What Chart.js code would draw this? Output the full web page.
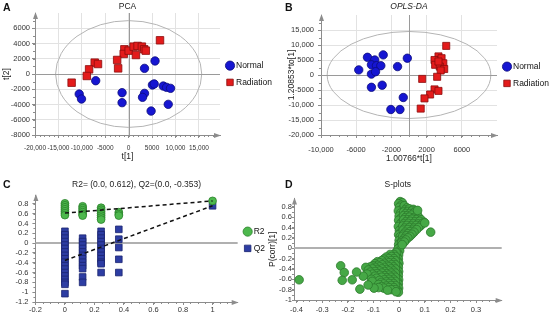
<!DOCTYPE html>
<html><head><meta charset="utf-8">
<script src="https://cdn.jsdelivr.net/npm/chart.js@4/dist/chart.umd.min.js"></script>
<style>
html,body{margin:0;padding:0;background:#fff;}
#wrap{position:relative;width:550px;height:320px;overflow:hidden;font-family:"Liberation Sans",Arial,sans-serif;background:#fff;}
canvas{position:absolute;}
.lt{position:absolute;font-weight:bold;font-size:10.5px;line-height:10.5px;color:#111;}
</style></head><body>
<div id="wrap">
<canvas id="cA" width="275" height="162" style="left:0;top:0"></canvas>
<canvas id="cB" width="275" height="165" style="left:275px;top:0"></canvas>
<canvas id="cC" width="275" height="160" style="left:0;top:160px"></canvas>
<canvas id="cD" width="288" height="160" style="left:262px;top:160px"></canvas>
<div class="lt" style="left:3px;top:2px">A</div>
<div class="lt" style="left:285px;top:1.5px">B</div>
<div class="lt" style="left:3px;top:179px">C</div>
<div class="lt" style="left:285px;top:179px">D</div>
</div>
<script>
// ---------------- DATA ----------------
// Panel A: PCA scores t[1], t[2]
const pcaNormal = [[5630,1710],[3380,740],[-7040,-880],[-10560,-2630],[-10070,-3280],[-1410,-2450],[-1410,-3760],[3380,-2540],[2960,-3060],[5070,-1440],[5450,-1300],[7390,-1580],[8100,-1750],[8940,-1880],[4790,-4860],[8450,-3980]];
const pcaRadiation = [[-920,3240],[-1060,2630],[0,3060],[1060,3590],[1900,3680],[2820,3590],[3310,3240],[3660,3060],[1550,2490],[-2460,1840],[-2250,740],[6690,4420],[-7250,1490],[-6550,1310],[-8450,610],[-8940,-260],[-12180,-1140]];
const pcaEllipse = [0, 0, 15600, 7000];
const pcaXTicks = [-20000,-15000,-10000,-5000,0,5000,10000,15000];
const pcaXLabels = ['-20,000','-15,000','-10,000','-5000','0','5000','10,000','15,000'];
const pcaYTicks = [6000,4000,2000,0,-2000,-4000,-6000,-8000];
const pcaYLabels = ['6000','4000','2000','0','-2000','-4000','-6000','-8000'];

// Panel B: OPLS-DA scores
const oplsNormal = [[-4720,5900],[-3890,5000],[-2930,6700],[-5710,1700],[-4270,3400],[-3700,3100],[-3200,3100],[-4270,300],[-3800,1100],[-4270,-4100],[-3050,-3400],[-1300,2800],[-190,5600],[-650,-7500],[-2060,-11500],[-1030,-11500]];
const oplsRadiation = [[4230,9700],[3350,6200],[2900,5000],[3700,5600],[3900,3900],[2970,3400],[3500,2800],[4000,2000],[3600,1500],[3200,-600],[1500,-1300],[2900,-4800],[3350,-5300],[2400,-6500],[1760,-7800],[1330,-11200],[3350,4500]];
const oplsEllipse = [0, 0, 9300, 14500];
const oplsXTicks = [-10000,-6000,-2000,2000,6000];
const oplsXLabels = ['-10,000','-6000','-2000','2000','6000'];
const oplsYTicks = [15000,10000,5000,0,-5000,-10000,-15000,-20000];
const oplsYLabels = ['15,000','10,000','5000','0','-5000','-10,000','-15,000','-20,000'];

// Panel C: permutation test
const permR2 = [[0,0.81],[0,0.77],[0,0.73],[0,0.69],[0,0.65],[0,0.61],[0,0.57],
  [0.12,0.75],[0.12,0.71],[0.12,0.67],[0.12,0.63],[0.12,0.59],[0.12,0.56],
  [0.245,0.72],[0.245,0.68],[0.245,0.64],[0.245,0.60],[0.245,0.56],[0.245,0.52],[0.245,0.48],
  [0.365,0.63],[0.365,0.59],[0.365,0.56],[1,0.86]];
const permQ2 = [[0,0.24],[0,0.17],[0,0.10],[0,0.03],[0,-0.04],[0,-0.11],[0,-0.18],[0,-0.25],[0,-0.32],[0,-0.39],[0,-0.46],[0,-0.53],[0,-0.60],[0,-0.67],[0,-0.74],[0,-0.80],[0,-0.84],[0,-1.03],
  [0.12,0.10],[0.12,0.03],[0.12,-0.04],[0.12,-0.11],[0.12,-0.18],[0.12,-0.25],[0.12,-0.32],[0.12,-0.39],[0.12,-0.46],[0.12,-0.52],[0.12,-0.69],[0.12,-0.80],
  [0.245,0.24],[0.245,0.17],[0.245,0.10],[0.245,0.03],[0.245,-0.04],[0.245,-0.11],[0.245,-0.18],[0.245,-0.25],[0.245,-0.32],[0.245,-0.39],[0.245,-0.42],[0.245,-0.60],
  [0.365,0.28],[0.365,0.08],[0.365,-0.09],[0.365,-0.33],[0.365,-0.60],[1,0.76]];
const fitR2 = [[0,0.612],[1,0.86]];
const fitQ2 = [[0,-0.353],[1,0.76]];
const permXTicks = [-0.2,0,0.2,0.4,0.6,0.8,1];
const permXLabels = ['-0.2','0','0.2','0.4','0.6','0.8','1'];
const permYTicks = [0.8,0.6,0.4,0.2,0,-0.2,-0.4,-0.6,-0.8,-1,-1.2];
const permYLabels = ['0.8','0.6','0.4','0.2','0','-0.2','-0.4','-0.6','-0.8','-1','-1.2'];

// Panel D: S-plot  (p[1], p(corr)[1])
const sColumn = [[0.004,0.90],[0.012,0.88],[-0.002,0.86],[0.008,0.83],[0.016,0.80],[0.001,0.79],[0.010,0.75],[-0.003,0.72],[0.006,0.68],[0.012,0.64],[0.000,0.62],[0.007,0.58],[-0.002,0.54],[0.010,0.50],[0.003,0.46],[-0.003,0.42],[0.008,0.38],[0.001,0.34],[0.006,0.30],[-0.002,0.26],[0.004,0.22],[0.009,0.18],[0.000,0.15],[0.006,0.11],[-0.002,0.07],[0.004,0.03],[-0.004,-0.01],[0.002,-0.05],[-0.006,-0.09],[-0.002,-0.13],[-0.008,-0.17],[-0.003,-0.21],[-0.006,-0.25],[-0.001,-0.29],[-0.007,-0.33],[-0.003,-0.37],[-0.008,-0.41],[-0.002,-0.45],[-0.006,-0.49],[-0.003,-0.53],[-0.008,-0.57],[-0.002,-0.61],[-0.006,-0.65],[-0.003,-0.69],[-0.007,-0.73],[-0.002,-0.77],[-0.006,-0.81],[-0.003,-0.85]];
const sUpper = [[0.020,0.82],[0.030,0.78],[0.024,0.74],[0.040,0.76],[0.055,0.75],[0.018,0.70],[0.034,0.71],[0.050,0.72],[0.064,0.72],[0.026,0.67],[0.042,0.67],[0.058,0.68],[0.070,0.66],[0.018,0.63],[0.032,0.63],[0.048,0.64],[0.066,0.62],[0.024,0.59],[0.040,0.60],[0.056,0.58],[0.076,0.60],[0.018,0.55],[0.034,0.55],[0.050,0.56],[0.068,0.55],[0.086,0.55],[0.026,0.51],[0.044,0.52],[0.062,0.51],[0.080,0.52],[0.097,0.50],[0.018,0.47],[0.036,0.48],[0.055,0.47],[0.074,0.47],[0.090,0.47],[0.015,0.43],[0.030,0.44],[0.048,0.43],[0.066,0.44],[0.083,0.43],[0.022,0.39],[0.040,0.40],[0.058,0.39],[0.075,0.40],[0.016,0.35],[0.034,0.36],[0.052,0.35],[0.068,0.36],[0.024,0.31],[0.042,0.32],[0.058,0.31],[0.018,0.27],[0.034,0.28],[0.050,0.27],[0.014,0.23],[0.028,0.24],[0.042,0.23],[0.020,0.19],[0.034,0.20],[0.014,0.15],[0.026,0.16],[0.010,0.11],[0.020,0.12],[0.012,0.07]];
const sLower = [[-0.012,-0.08],[-0.020,-0.12],[-0.035,-0.12],[-0.015,-0.16],[-0.030,-0.16],[-0.050,-0.17],[-0.020,-0.20],[-0.040,-0.20],[-0.060,-0.21],[-0.015,-0.24],[-0.032,-0.24],[-0.050,-0.25],[-0.068,-0.24],[-0.085,-0.26],[-0.022,-0.28],[-0.040,-0.28],[-0.058,-0.29],[-0.076,-0.28],[-0.095,-0.30],[-0.015,-0.32],[-0.030,-0.32],[-0.048,-0.33],[-0.066,-0.32],[-0.084,-0.33],[-0.102,-0.34],[-0.022,-0.36],[-0.040,-0.36],[-0.058,-0.37],[-0.076,-0.36],[-0.094,-0.37],[-0.112,-0.36],[-0.130,-0.37],[-0.015,-0.40],[-0.032,-0.40],[-0.050,-0.41],[-0.068,-0.40],[-0.086,-0.41],[-0.104,-0.40],[-0.120,-0.42],[-0.022,-0.44],[-0.040,-0.44],[-0.058,-0.45],[-0.076,-0.44],[-0.094,-0.45],[-0.112,-0.46],[-0.015,-0.48],[-0.032,-0.48],[-0.050,-0.49],[-0.068,-0.48],[-0.086,-0.49],[-0.104,-0.50],[-0.125,-0.50],[-0.022,-0.52],[-0.040,-0.52],[-0.058,-0.53],[-0.076,-0.52],[-0.094,-0.54],[-0.140,-0.54],[-0.015,-0.56],[-0.032,-0.56],[-0.050,-0.57],[-0.068,-0.56],[-0.088,-0.58],[-0.108,-0.60],[-0.022,-0.60],[-0.040,-0.60],[-0.058,-0.61],[-0.076,-0.62],[-0.015,-0.64],[-0.032,-0.64],[-0.050,-0.65],[-0.070,-0.66],[-0.105,-0.64],[-0.022,-0.68],[-0.040,-0.68],[-0.060,-0.69],[-0.080,-0.70],[-0.015,-0.72],[-0.032,-0.72],[-0.050,-0.73],[-0.068,-0.74],[-0.020,-0.76],[-0.040,-0.76],[-0.060,-0.77],[-0.080,-0.76],[-0.098,-0.77],[-0.015,-0.80],[-0.032,-0.80],[-0.045,-0.81],[-0.012,-0.84]];
const sOutliers = [[-0.390,-0.61],[-0.228,-0.34],[-0.214,-0.47],[-0.222,-0.62],[-0.183,-0.61],[-0.166,-0.46],[-0.153,-0.79],[-0.121,-0.71],[0.123,0.31],[0.100,0.49],[0.072,0.73]];
const sXTicks = [-0.4,-0.3,-0.2,-0.1,0,0.1,0.2,0.3];
const sXLabels = ['-0.4','-0.3','-0.2','-0.1','0','0.1','0.2','0.3'];
const sYTicks = [0.8,0.6,0.4,0.2,0,-0.2,-0.4,-0.6,-0.8,-1];
const sYLabels = ['0.8','0.6','0.4','0.2','0','-0.2','-0.4','-0.6','-0.8','-1'];

// ---------------- STYLE / HELPERS ----------------
const FONT = '"Liberation Sans", Arial, sans-serif';
Chart.defaults.font.family = FONT;
Chart.defaults.color = '#333';
const AXIS = '#8c8c8c';
const toXY = a => a.map(p => ({x: p[0], y: p[1]}));

const decor = {
  id: 'decor',
  beforeDatasetsDraw(chart, args, o) {
    const {ctx, chartArea: a, scales: {x, y}} = chart;
    ctx.save();
    if (o.ellipse) {
      const [cx, cy, rx, ry] = o.ellipse;
      const px = x.getPixelForValue(cx), py = y.getPixelForValue(cy);
      ctx.beginPath();
      ctx.ellipse(px, py, Math.abs(x.getPixelForValue(cx + rx) - px), Math.abs(y.getPixelForValue(cy + ry) - py), 0, 0, Math.PI * 2);
      ctx.strokeStyle = '#b4b4b4'; ctx.lineWidth = 1; ctx.stroke();
    }
    ctx.strokeStyle = o.zeroColor; ctx.lineWidth = o.zeroWidth;
    if (o.zeroY) {
      const py = Math.round(y.getPixelForValue(0)) + (o.zeroWidth % 2 ? 0.5 : 0);
      ctx.beginPath(); ctx.moveTo(a.left, py); ctx.lineTo(a.right, py); ctx.stroke();
    }
    if (o.zeroX) {
      const px = Math.round(x.getPixelForValue(0)) + (o.zeroWidth % 2 ? 0.5 : 0);
      ctx.beginPath(); ctx.moveTo(px, a.top); ctx.lineTo(px, a.bottom); ctx.stroke();
    }
    ctx.restore();
  },
  afterDraw(chart, args, o) {
    const {ctx, chartArea: a, scales: {x, y}} = chart;
    ctx.save();
    ctx.strokeStyle = AXIS; ctx.lineWidth = 1;
    if (o.minorX) {
      for (let i = Math.ceil(x.min / o.minorX); i * o.minorX <= x.max + 1e-9; i++) {
        const px = Math.round(x.getPixelForValue(i * o.minorX)) + 0.5;
        if (px > a.right - 6) continue;
        ctx.beginPath(); ctx.moveTo(px, a.bottom); ctx.lineTo(px, a.bottom + 2); ctx.stroke();
      }
    }
    if (o.minorY) {
      for (let i = Math.ceil(y.min / o.minorY); i * o.minorY <= y.max + 1e-9; i++) {
        const py = Math.round(y.getPixelForValue(i * o.minorY)) + 0.5;
        if (py < a.top + 6) continue;
        ctx.beginPath(); ctx.moveTo(a.left - 2, py); ctx.lineTo(a.left, py); ctx.stroke();
      }
    }
    ctx.fillStyle = AXIS;
    ctx.beginPath(); ctx.moveTo(a.left + 0.5, a.top - 1); ctx.lineTo(a.left - 2, a.top + 6); ctx.lineTo(a.left + 3, a.top + 6); ctx.closePath(); ctx.fill();
    ctx.beginPath(); ctx.moveTo(a.right + 1, a.bottom + 0.5); ctx.lineTo(a.right - 6, a.bottom - 2); ctx.lineTo(a.right - 6, a.bottom + 3); ctx.closePath(); ctx.fill();
    ctx.restore();
  }
};

function axis(o) {
  return {
    type: 'linear', min: o.min, max: o.max,
    border: {color: AXIS, width: 1},
    grid: {drawOnChartArea: !!o.grid, color: '#e2e2e2', lineWidth: 1, tickColor: AXIS, tickLength: o.tickLength ?? 3},
    ticks: {autoSkip: false, maxRotation: 0, minRotation: 0, padding: o.pad, font: {size: o.fontSize || 7.5}, color: '#333',
      callback: (v, i) => o.labels[i]},
    afterBuildTicks: s => { s.ticks = o.values.map(v => ({value: v})); },
    afterFit: s => { if (o.width != null) s.width = o.width; if (o.height != null) s.height = o.height; },
    title: o.title ? {display: true, text: o.title, font: {size: 8.5}, color: '#222', padding: o.titlePad} : {display: false}
  };
}

function legendOpts(maxWidth, fullSize) {
  return {position: 'right', align: 'center', fullSize: fullSize, maxWidth: maxWidth,
    labels: {usePointStyle: true, boxWidth: 3.5, boxHeight: 6.5, padding: 8.25, color: '#111',
      font: {size: 8.5}, filter: it => it.text !== ''}};
}

function titleOpts(text, top, bottom, italic) {
  return {display: true, text: text, fullSize: false, color: '#222',
    font: {size: 8.5, weight: 'normal', style: italic ? 'italic' : 'normal'},
    padding: {top: top, bottom: bottom}};
}

const base = {responsive: false, maintainAspectRatio: false, animation: false, events: [], devicePixelRatio: 1};
const blue = {pointStyle: 'circle', backgroundColor: '#1616d2', borderColor: '#0b0b7a', borderWidth: 0.8, clip: false};
const red = {pointStyle: 'rect', backgroundColor: '#e31b1b', borderColor: '#8a0c0c', borderWidth: 0.8, clip: false};

// ---------------- PANEL A ----------------
new Chart(document.getElementById('cA'), {
  type: 'scatter',
  data: {datasets: [
    Object.assign({label: 'Normal', data: toXY(pcaNormal), pointRadius: 4.2, pointHoverRadius: 4.2}, blue),
    Object.assign({label: 'Radiation', data: toXY(pcaRadiation), pointRadius: 5.3, pointHoverRadius: 5.3}, red)
  ]},
  options: Object.assign({}, base, {
    layout: {padding: 0},
    scales: {
      x: axis({min: -20000, max: 19500, values: pcaXTicks, labels: pcaXLabels, grid: true, pad: 6.5, fontSize: 6.5, height: 27, title: 't[1]', titlePad: {top: 0, bottom: 0.4}}),
      y: axis({min: -8000, max: 8000, values: pcaYTicks, labels: pcaYLabels, grid: true, pad: 2, width: 35, title: 't[2]', titlePad: {top: 1.9, bottom: 0}})
    },
    plugins: {
      legend: legendOpts(55, false),
      title: titleOpts('PCA', 2, 0.8, false),
      tooltip: {enabled: false},
      decor: {ellipse: pcaEllipse, zeroX: true, zeroY: true, zeroColor: '#9a9a9a', zeroWidth: 1, minorX: 1000, minorY: 1000}
    }
  }),
  plugins: [decor]
});

// ---------------- PANEL B ----------------
new Chart(document.getElementById('cB'), {
  type: 'scatter',
  data: {datasets: [
    Object.assign({label: 'Normal', data: toXY(oplsNormal), pointRadius: 4.2, pointHoverRadius: 4.2}, blue),
    Object.assign({label: 'Radiation', data: toXY(oplsRadiation), pointRadius: 5, pointHoverRadius: 5}, red)
  ]},
  options: Object.assign({}, base, {
    layout: {padding: 0},
    scales: {
      x: axis({min: -10000, max: 10000, values: oplsXTicks, labels: oplsXLabels, grid: true, pad: 7, height: 30, title: '1.00766*t[1]', titlePad: {top: 0, bottom: 1.6}}),
      y: axis({min: -20000, max: 20000, values: oplsYTicks, labels: oplsYLabels, grid: true, pad: 4, width: 46, title: '1.20853*to[1]', titlePad: {top: 11.6, bottom: 0}})
    },
    plugins: {
      legend: legendOpts(53, false),
      title: titleOpts('OPLS-DA', 2, 2.8, true),
      tooltip: {enabled: false},
      decor: {ellipse: oplsEllipse, zeroX: true, zeroY: true, zeroColor: '#9a9a9a', zeroWidth: 1, minorX: 1000, minorY: 2500}
    }
  }),
  plugins: [decor]
});

// ---------------- PANEL C ----------------
new Chart(document.getElementById('cC'), {
  type: 'scatter',
  data: {datasets: [
    {label: 'R2', data: toXY(permR2), pointStyle: 'circle', pointRadius: 3.9, pointHoverRadius: 3.9, backgroundColor: '#4db84d', borderColor: '#2b822b', borderWidth: 0.8, clip: false, order: 1},
    {label: 'Q2', data: toXY(permQ2), pointStyle: 'rect', pointRadius: 4.7, pointHoverRadius: 4.7, backgroundColor: '#2d3da3', borderColor: '#1a2470', borderWidth: 0.8, clip: false, order: 1},
    {label: '', data: toXY(fitR2), showLine: true, pointRadius: 0, borderColor: '#111', borderWidth: 1.5, borderDash: [4, 3], order: 0},
    {label: '', data: toXY(fitQ2), showLine: true, pointRadius: 0, borderColor: '#111', borderWidth: 1.5, borderDash: [4, 3], order: 0}
  ]},
  options: Object.assign({}, base, {
    layout: {padding: 0},
    scales: {
      x: axis({min: -0.2, max: 1.17, values: permXTicks, labels: permXLabels, grid: false, pad: 0.5, height: 18}),
      y: axis({min: -1.2, max: 0.98, values: permYTicks, labels: permYLabels, grid: false, pad: 4, width: 35.4})
    },
    plugins: {
      legend: legendOpts(55, true),
      title: titleOpts('R2= (0.0, 0.612), Q2=(0.0, -0.353)', 19.9, 4.9, false),
      tooltip: {enabled: false},
      decor: {zeroY: true, zeroColor: '#b0b0b0', zeroWidth: 2, minorX: 0.05, minorY: 0.1}
    }
  }),
  plugins: [decor]
});

// ---------------- PANEL D ----------------
new Chart(document.getElementById('cD'), {
  type: 'scatter',
  data: {datasets: [
    {label: 'S-plot', data: toXY(sColumn.concat(sUpper, sLower, sOutliers)), pointStyle: 'circle', pointRadius: 4.3, pointHoverRadius: 4.3, backgroundColor: '#46a846', borderColor: '#2c7a2c', borderWidth: 0.8, clip: false}
  ]},
  options: Object.assign({}, base, {
    layout: {padding: {left: 0, top: 0, bottom: 0, right: 48.3}},
    scales: {
      x: axis({min: -0.41, max: 0.40, values: sXTicks, labels: sXLabels, grid: false, pad: 2.5, height: 20}),
      y: axis({min: -1, max: 0.96, values: sYTicks, labels: sYLabels, grid: false, pad: 0, tickLength: 2, width: 32, title: 'P(corr)[1]', titlePad: {top: 5.6, bottom: 0}})
    },
    plugins: {
      legend: {display: false},
      title: titleOpts('S-plots', 19.9, 8.4, false),
      tooltip: {enabled: false},
      decor: {zeroY: true, zeroColor: '#b0b0b0', zeroWidth: 2, minorX: 0.025, minorY: 0.1}
    }
  }),
  plugins: [decor]
});
</script>
</body></html>
